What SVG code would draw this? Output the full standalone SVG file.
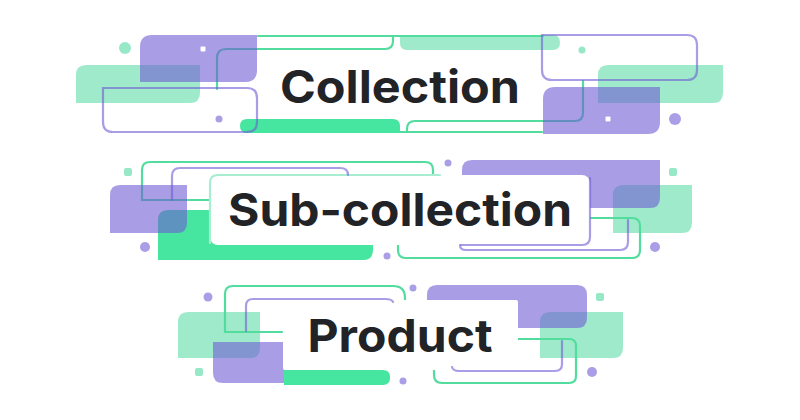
<svg xmlns="http://www.w3.org/2000/svg" width="800" height="420" viewBox="0 0 800 420">
<style>
.mint{fill:#9feacb}
.green{fill:#47e6a0}
.pur{fill:rgb(112,92,212);fill-opacity:0.6}
.gl{fill:none;stroke:#52dc9e;stroke-width:2.2;stroke-linecap:round}
.pl{fill:none;stroke:rgb(112,92,212);stroke-opacity:0.6;stroke-width:2.2;stroke-linecap:round}
.ml{fill:none;stroke:#a8ecd2;stroke-width:2.2;stroke-linecap:round}
.dotp{fill:#aa9fe6}
.dotm{fill:#97e8c6}
.box{fill:#ffffff}
.wsq{fill:#ffffff}
.lbl{font-family:Inter,"Liberation Sans",sans-serif;font-weight:700;font-size:45px;fill:#212326}
</style>
<rect width="800" height="420" fill="#ffffff"/>

<g id="collection">
  <!-- mint fills -->
  <path class="mint" d="M86,65 H200 V93 Q200,103 190,103 H76 V75 Q76,65 86,65 Z"/>
  <path class="mint" d="M608,65 H723 V93 Q723,103 713,103 H598 V75 Q598,65 608,65 Z"/>
  <path class="mint" d="M400,35 H553 Q560,35 560,42.5 Q560,50 553,50 H407 Q400,50 400,43 Z"/>
  <!-- bright green bar -->
  <path class="green" d="M247,119 H393 Q400,119 400,126 V133 H247 Q240,133 240,126 Q240,119 247,119 Z"/>
  <!-- green lines -->
  <path class="gl" d="M258,36 H543"/>
  <path class="gl" d="M217,89 V58 Q217,49 226,49 H385 Q393,49 393,41 V36"/>
  <path class="gl" d="M400,132 H542"/>
  <path class="gl" d="M583,81 V113 Q583,121 575,121 H415 Q407,121 407,129 V132"/>
  <!-- purple fills -->
  <path class="pur" d="M152,35 H257 V70 Q257,82 245,82 H140 V47 Q140,35 152,35 Z"/>
  <path class="pur" d="M555,87 H660 V122 Q660,134 648,134 H543 V99 Q543,87 555,87 Z"/>
  <!-- purple outlines -->
  <path class="pl" d="M103,88 H247 Q257,88 257,98 V122 Q257,132 247,132 H113 Q103,132 103,122 Z"/>
  <path class="pl" d="M542,35 H687 Q697,35 697,45 V70 Q697,80 687,80 H552 Q542,80 542,70 Z"/>
  <!-- dots -->
  <circle class="dotm" cx="125" cy="48" r="6"/>
  <rect class="wsq" x="200.5" y="46.5" width="5" height="5" rx="1"/>
  <circle class="dotp" cx="219" cy="119" r="3.5"/>
  <circle class="dotm" cx="582" cy="50" r="3.5"/>
  <rect class="wsq" x="605.5" y="116.5" width="5" height="5" rx="1"/>
  <circle class="dotp" cx="675" cy="119" r="6"/>
  <text class="lbl" x="400" y="103" text-anchor="middle" textLength="240" lengthAdjust="spacingAndGlyphs">Collection</text>
</g>

<g id="sub-collection">
  <path class="mint" d="M623,185 H692 V223 Q692,233 682,233 H613 V195 Q613,185 623,185 Z"/>
  <path class="green" d="M168,210 H373 V250 Q373,260 363,260 H158 V220 Q158,210 168,210 Z"/>
  <rect class="dotm" x="124" y="168" width="8" height="8" rx="2"/>
  <rect class="dotm" x="669" y="168" width="8" height="8" rx="2"/>
  <path class="gl" d="M210,200 H142 V170 Q142,162 150,162 H425 Q433,162 433,170 V175"/>
  <path class="gl" d="M590,218 H632 Q640,218 640,226 V250 Q640,258 632,258 H406 Q398,258 398,250 V245"/>
  <path class="pur" d="M120,185 H187 V223 Q187,233 177,233 H110 V195 Q110,185 120,185 Z"/>
  <path class="pur" d="M472,160 H660 V198 Q660,208 650,208 H462 V170 Q462,160 472,160 Z"/>
  <rect class="box" x="210" y="175" width="380" height="70" rx="8"/>
  <path class="ml" d="M210,243 V183 Q210,175 218,175 H440"/>
  <path class="pl" d="M590,178 V237 Q590,245 582,245 H461"/>
  <path class="pl" d="M172,200 V176 Q172,168 180,168 H340 Q348,168 348,175"/>
  <path class="pl" d="M460,245 Q460,250 466,250 H620 Q628,250 628,242 V220"/>
  <circle class="dotp" cx="145" cy="247" r="5"/>
  <circle class="dotp" cx="448" cy="163" r="3.5"/>
  <circle class="dotp" cx="387" cy="256" r="3.5"/>
  <circle class="dotp" cx="655" cy="247" r="5"/>
  <text class="lbl" x="400" y="226" text-anchor="middle" textLength="344" lengthAdjust="spacingAndGlyphs">Sub-collection</text>
</g>

<g id="product">
  <path class="mint" d="M188,312 H260 V348 Q260,358 250,358 H178 V322 Q178,312 188,312 Z"/>
  <path class="mint" d="M550,312 H623 V348 Q623,358 613,358 H540 V322 Q540,312 550,312 Z"/>
  <path class="green" d="M284,370 H383 Q390,370 390,377 V378 Q390,385 383,385 H284 Z"/>
  <rect class="dotm" x="195" y="368" width="8" height="8" rx="2"/>
  <rect class="dotm" x="596" y="293" width="8" height="8" rx="2"/>
  <path class="gl" d="M282,332 H225 V294 Q225,286 233,286 H393 Q405,286 405,298 V300"/>
  <path class="gl" d="M518,339 H569 Q576,339 576,346 V376 Q576,383 569,383 H442 Q434,383 434,375 V370"/>
  <path class="pur" d="M213,342 H284 V383 H223 Q213,383 213,373 Z"/>
  <path class="pur" d="M437,285 H577 Q587,285 587,295 V318 Q587,328 577,328 H427 V295 Q427,285 437,285 Z"/>
  <rect class="box" x="283" y="300" width="235" height="70" rx="2"/>
  <path class="pl" d="M246,331 V306 Q246,299 253,299 H385 Q392,299 393,302"/>
  <path class="pl" d="M562,341 V364 Q562,371 555,371 H459 Q453,371 452,367"/>
  <circle class="dotp" cx="208" cy="297" r="4.5"/>
  <circle class="dotp" cx="413" cy="288" r="3.5"/>
  <circle class="dotp" cx="403" cy="381" r="3.5"/>
  <circle class="dotp" cx="592" cy="372" r="5"/>
  <text class="lbl" x="400" y="352" text-anchor="middle" textLength="185" lengthAdjust="spacingAndGlyphs">Product</text>
</g>
</svg>
